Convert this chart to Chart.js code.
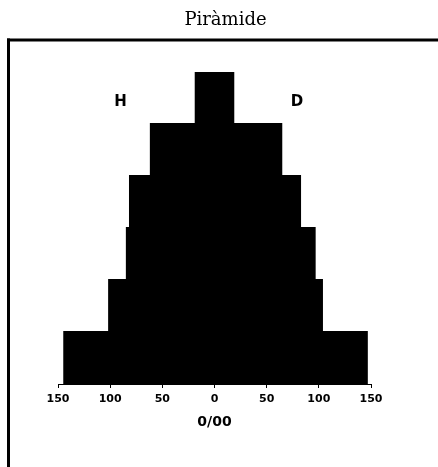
<!DOCTYPE html>
<html>
<head>
<meta charset="utf-8">
<script src="https://cdn.jsdelivr.net/npm/chart.js@4.4.1/dist/chart.umd.min.js"></script>
<style>
  html, body { margin: 0; padding: 0; background: #fff; }
</style>
</head>
<body>
<canvas id="chart" width="438" height="467"></canvas>
<script>
// franges d'edat, de baix a dalt (no es veuen al gràfic)
const grups = ['1', '2', '3', '4', '5', '6'];
// per mil, llegit del gràfic
const homes = [144, 101, 84, 81, 61, 18];
const dones = [146, 103, 96, 82, 64, 18];
const ticksX = [-150, -100, -50, 0, 50, 100, 150];
const titol = 'Piràmide';
const unitat = '0/00';
const sexes = ['H', 'D'];

// marc, títol i lletres H / D
const marc = {
  id: 'marc',
  beforeDraw(chart) {
    const ctx = chart.ctx;
    ctx.save();
    ctx.fillStyle = '#fff';
    ctx.fillRect(0, 0, chart.width, chart.height);
    ctx.fillStyle = '#000';
    ctx.fillRect(7, 38.5, 431, 3);
    ctx.fillRect(7, 38.5, 3, 428.5);
    ctx.font = '18px "DejaVu Serif"';
    ctx.textAlign = 'center';
    ctx.textBaseline = 'alphabetic';
    ctx.fillText(titol, 225.5, 25);
    ctx.restore();
  },
  afterDraw(chart) {
    const { ctx, scales: { x, y } } = chart;
    const yy = y.getPixelForValue(grups.length - 1) + 4;
    ctx.save();
    ctx.fillStyle = '#000';
    ctx.font = 'bold 15px "DejaVu Sans"';
    ctx.textAlign = 'center';
    ctx.textBaseline = 'middle';
    ctx.fillText(sexes[0], x.getPixelForValue(-90), yy);
    ctx.fillText(sexes[1], x.getPixelForValue(79), yy);
    ctx.restore();
  }
};

const barra = {
  backgroundColor: '#000',
  borderWidth: 0,
  inflateAmount: 1,
  barPercentage: 1,
  categoryPercentage: 1
};

new Chart(document.getElementById('chart'), {
  type: 'bar',
  data: {
    labels: grups,
    datasets: [
      Object.assign({ label: sexes[0], data: homes.map(v => -v) }, barra),
      Object.assign({ label: sexes[1], data: dones }, barra)
    ]
  },
  options: {
    indexAxis: 'y',
    responsive: false,
    animation: false,
    layout: { padding: { left: 58, right: 67, top: 72, bottom: 0 } },
    scales: {
      x: {
        type: 'linear',
        position: 'bottom',
        stacked: true,
        min: -150,
        max: 150,
        afterBuildTicks: s => { s.ticks = ticksX.map(v => ({ value: v })); },
        afterFit: s => { s.height = 83; },
        border: { display: true, color: '#000', width: 1 },
        grid: { display: true, drawOnChartArea: false, tickLength: 4, color: '#000' },
        ticks: {
          color: '#000',
          padding: 5,
          font: { family: 'DejaVu Sans', size: 11, weight: 'bold' },
          callback: v => Math.abs(v)
        },
        title: {
          display: true,
          text: unitat,
          color: '#000',
          font: { family: 'DejaVu Sans', size: 14, weight: 'bold' },
          padding: { top: 0, bottom: 36 }
        }
      },
      y: {
        display: false,
        stacked: true,
        reverse: true
      }
    },
    plugins: {
      legend: { display: false },
      tooltip: { enabled: false }
    }
  },
  plugins: [marc]
});
</script>
</body>
</html>
